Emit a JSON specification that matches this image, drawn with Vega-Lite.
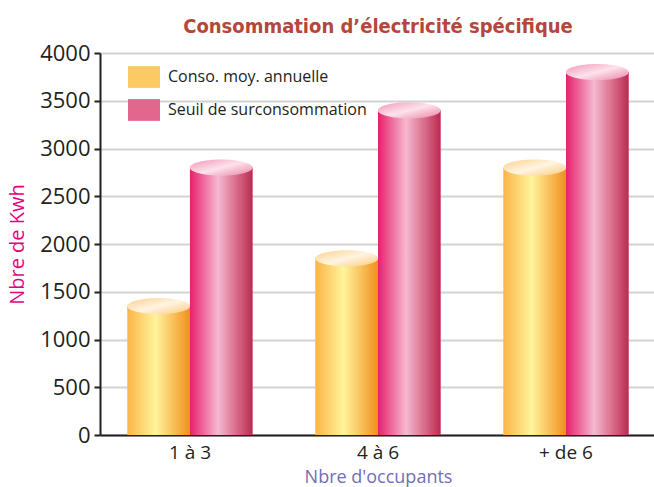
{
  "$schema": "https://vega.github.io/schema/vega-lite/v6.json",
  "autosize": {"type": "none"},
  "padding": {"left": 100, "top": 53, "right": 0, "bottom": 52},
  "width": 556,
  "height": 382,
  "background": "white",
  "title": {
    "text": "Consommation d’électricité spécifique",
    "font": "DejaVu Sans Condensed",
    "fontSize": 20,
    "fontWeight": "bold",
    "color": "#b5473a",
    "anchor": "middle",
    "offset": 5
  },
  "data": {
    "values": [
      {"occupants": "1 à 3", "serie": "Conso. moy. annuelle", "kwh": 1350},
      {"occupants": "1 à 3", "serie": "Seuil de surconsommation", "kwh": 2800},
      {"occupants": "4 à 6", "serie": "Conso. moy. annuelle", "kwh": 1850},
      {"occupants": "4 à 6", "serie": "Seuil de surconsommation", "kwh": 3400},
      {"occupants": "+ de 6", "serie": "Conso. moy. annuelle", "kwh": 2800},
      {"occupants": "+ de 6", "serie": "Seuil de surconsommation", "kwh": 3800}
    ]
  },
  "config": {
    "view": {"stroke": null},
    "font": "Open Sans"
  },
  "encoding": {
    "x": {
      "field": "occupants",
      "type": "nominal",
      "sort": ["1 à 3", "4 à 6", "+ de 6"],
      "scale": {"paddingInner": 0.335, "paddingOuter": 0.146},
      "axis": {
        "title": "Nbre d'occupants",
        "titleFont": "Open Sans",
        "titleFontWeight": "normal",
        "titleFontSize": 18,
        "titleColor": "#6f6fb5",
        "titlePadding": 6,
        "labelAngle": 0,
        "labelFontSize": 19,
        "labelColor": "#231f20",
        "labelPadding": 8,
        "ticks": false,
        "domainColor": "#231f20",
        "domainWidth": 2
      }
    },
    "xOffset": {"field": "serie", "type": "nominal", "scale": {"paddingInner": 0, "paddingOuter": 0}},
    "y": {
      "field": "kwh",
      "type": "quantitative",
      "scale": {"domain": [0, 4000], "nice": false},
      "axis": {
        "values": [0, 500, 1000, 1500, 2000, 2500, 3000, 3500, 4000],
        "format": "d",
        "title": "Nbre de Kwh",
        "titleFont": "Open Sans",
        "titleFontWeight": "normal",
        "titleFontSize": 20,
        "titleColor": "#e6007e",
        "titlePadding": 12,
        "labelFontSize": 22,
        "labelColor": "#231f20",
        "labelPadding": 4,
        "tickSize": 6,
        "tickColor": "#231f20",
        "tickWidth": 2,
        "domainColor": "#231f20",
        "domainWidth": 2,
        "grid": true,
        "gridColor": "#d3d3d3",
        "gridWidth": 2
      }
    }
  },
  "layer": [
    {
      "mark": {"type": "bar"},
      "encoding": {
        "color": {
          "field": "serie",
          "type": "nominal",
          "scale": {
            "domain": ["Conso. moy. annuelle", "Seuil de surconsommation"],
            "range": ["#fcca62", "#e2678e"]
          },
          "legend": {
            "title": null,
            "orient": "none",
            "legendX": 28,
            "legendY": 8,
            "symbolType": "M-1,-0.68H1V0.68H-1Z",
            "symbolSize": 1024,
            "symbolStrokeWidth": 0,
            "symbolOpacity": 1,
            "labelFontSize": 16,
            "labelColor": "#231f20",
            "labelOffset": 8,
            "rowPadding": 6,
            "labelLimit": 400
          }
        }
      }
    },
    {
      "mark": {"type": "bar"},
      "encoding": {
        "fill": {
          "condition": {
            "test": "datum.serie === 'Conso. moy. annuelle'",
            "value": {"gradient": "linear", "x1": 0, "y1": 0, "x2": 1, "y2": 0, "stops": [
              {"offset": 0, "color": "#fbb448"},
              {"offset": 0.45, "color": "#fff49c"},
              {"offset": 1, "color": "#f38f1c"}
            ]}
          },
          "value": {"gradient": "linear", "x1": 0, "y1": 0, "x2": 1, "y2": 0, "stops": [
            {"offset": 0, "color": "#e8206c"},
            {"offset": 0.45, "color": "#f6b8cf"},
            {"offset": 1, "color": "#bd2a50"}
          ]}
        }
      }
    },
    {
      "mark": {"type": "point", "shape": "M-1,0A1,0.26 0 1,0 1,0A1,0.26 0 1,0 -1,0Z", "size": 3950, "filled": true, "opacity": 1},
      "encoding": {
        "fill": {
          "condition": {
            "test": "datum.serie === 'Conso. moy. annuelle'",
            "value": {"gradient": "linear", "x1": 0, "y1": 0, "x2": 1, "y2": 1, "stops": [
              {"offset": 0, "color": "#fbd08a"},
              {"offset": 0.5, "color": "#fff4e2"},
              {"offset": 1, "color": "#fbc97a"}
            ]}
          },
          "value": {"gradient": "linear", "x1": 0, "y1": 0, "x2": 1, "y2": 1, "stops": [
            {"offset": 0, "color": "#f095b5"},
            {"offset": 0.5, "color": "#fde2ec"},
            {"offset": 1, "color": "#e883a4"}
          ]}
        }
      }
    }
  ]
}
